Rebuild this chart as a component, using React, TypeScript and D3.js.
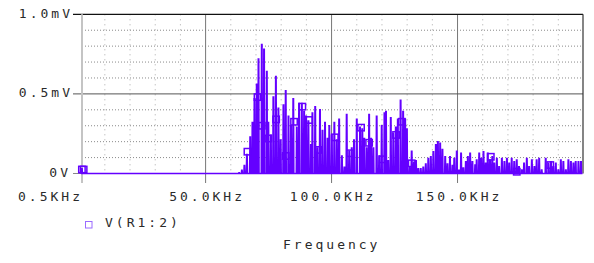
import React, { useEffect, useRef } from "react"
import * as d3 from "d3"

// spectrum peaks (KHz, mV)
const peakFreqs = [
  0.9, 63.3, 64.4, 65.4, 66.4, 67.7, 68.6, 69.4, 70.3, 71.0, 72.3, 73.2, 74.3, 74.9, 75.9, 76.9,
  77.9, 78.9, 79.8, 80.9, 81.8, 82.9, 83.9, 84.8, 86.2, 87.1, 88.2, 89.1, 89.9, 90.8,
  91.8, 92.4, 93.5, 94.4, 95.4, 96.4, 97.4, 98.4, 99.1, 100.1, 101.1, 102.1, 103.0, 104.1,
  105.1, 106.0, 107.0, 108.0, 108.9, 110.0, 111.3, 112.2, 113.0, 114.0, 114.9, 115.7,
  116.6, 117.9, 118.9, 119.9, 121.0, 121.6, 122.5, 123.5, 124.5, 125.5, 126.3, 127.4,
  128.4, 129.2, 129.9, 130.9, 131.8, 132.7, 133.5, 134.4, 135.4, 136.4, 137.4, 138.4,
  139.4, 140.4, 141.4, 142.2, 143.1, 144.0, 145.1, 146.0, 147.0, 148.0, 148.7, 149.7,
  150.6, 151.4, 152.3, 153.3, 154.1, 155.0, 155.9, 157.0, 157.6, 158.6, 159.4, 160.3,
  161.2, 162.0, 162.9, 163.8, 164.6, 165.6, 166.5, 167.6, 168.6, 169.6, 170.5, 171.5,
  172.5, 173.5, 174.4, 175.5, 176.4, 177.5, 178.4, 179.5, 180.5, 181.4, 182.4, 183.4,
  185.0, 186.1, 187.1, 188.0, 189.0, 190.0, 191.0, 192.0, 193.0, 194.0, 195.0, 196.0,
  196.9, 198.0, 199.0
]
const peakValues = [
  0.03, 0.005, 0.02, 0.05, 0.12, 0.23, 0.32, 0.47, 0.56, 0.72, 0.81, 0.78, 0.64, 0.32, 0.24, 0.48,
  0.61, 0.41, 0.21, 0.43, 0.52, 0.36, 0.3, 0.47, 0.29, 0.44, 0.44, 0.39, 0.36, 0.33,
  0.18, 0.38, 0.42, 0.16, 0.4, 0.27, 0.32, 0.22, 0.3, 0.24, 0.32, 0.21, 0.34, 0.11,
  0.04, 0.37, 0.14, 0.16, 0.21, 0.34, 0.29, 0.28, 0.22, 0.16, 0.37, 0.22,
  0.16, 0.36, 0.11, 0.3, 0.38, 0.39, 0.08, 0.35, 0.25, 0.29, 0.34, 0.46,
  0.39, 0.34, 0.28, 0.04, 0.14, 0.07, 0.08, 0.03, 0.03, 0.04, 0.06, 0.095,
  0.105, 0.137, 0.18, 0.2, 0.19, 0.15, 0.105, 0.06, 0.105, 0.05, 0.095, 0.14,
  0.02, 0.127, 0.035, 0.074, 0.105, 0.127, 0.074, 0.053, 0.085, 0.127, 0.095, 0.137,
  0.064, 0.127, 0.085, 0.105, 0.064, 0.095, 0.043, 0.095, 0.074, 0.095, 0.064, 0.095,
  0.074, 0.085, 0.043, 0.022, 0.064, 0.095, 0.043, 0.085, 0.043, 0.085, 0.095, 0.022,
  0.095, 0.064, 0.074, 0.043, 0.064, 0.022, 0.085, 0.074, 0.022, 0.085, 0.074, 0.064,
  0.074, 0.074, 0.074
]

// trace markers
const markerFreqs = [0.9, 1.6, 66.6, 70.6, 72.3, 74.9, 78.0, 81.8, 85.1, 88.4, 91.1, 94.8, 101.3,
  107.3, 111.7, 114.9, 120.3, 125.6, 127.9, 131.8, 163.2, 173.5, 186.8]
const markerValues = [0.025, 0.025, 0.137, 0.48, 0.3, 0.22, 0.34, 0.11, 0.325, 0.42, 0.336, 0.148,
  0.227, 0.127, 0.288, 0.193, 0.089, 0.242, 0.325, 0.064, 0.105, 0.011, 0.053]

const xTickValues = [0.5, 50, 100, 150]
const xTickLabels = ["0.5KHz", "50.0KHz", "100.0KHz", "150.0KHz"]
const yTickValues = [0, 0.5, 1.0]
const yTickLabels = ["0V", "0.5mV", "1.0mV"]
const minorXValues = [10, 20, 30, 40, 60, 70, 80, 90, 110, 120, 130, 140, 160, 170, 180, 190]
const minorYValues = [0.1, 0.2, 0.3, 0.4, 0.6, 0.7, 0.8, 0.9]
const traceName = "V(R1:2)"
const xTitle = "Frequency"

const W = 594
const H = 263
const TRACE = "#6400ff"
const FONT = "'DejaVu Sans Mono', monospace"
const LS = 3

export default function App() {
  const ref = useRef<SVGSVGElement>(null)

  useEffect(() => {
    const svg = d3.select(ref.current)
    svg.selectAll("*").remove()

    const x = d3.scaleLinear().domain([0.5, 199.6]).range([80.9, 582.5])
    const y = d3.scaleLinear().domain([0, 1]).range([173.5, 14.3])
    const left = 82
    const right = 583

    // minor grid
    svg.append("g")
      .selectAll("line")
      .data(minorYValues)
      .join("line")
      .attr("x1", left).attr("x2", right)
      .attr("y1", d => y(d)).attr("y2", d => y(d))
      .attr("stroke", "#8a8a8a")
      .attr("stroke-width", 1)
      .attr("stroke-dasharray", "1,2")
    svg.append("g")
      .selectAll("line")
      .data(minorXValues)
      .join("line")
      .attr("x1", d => x(d)).attr("x2", d => x(d))
      .attr("y1", y(1)).attr("y2", y(0))
      .attr("stroke", "#aaa")
      .attr("stroke-width", 1)
      .attr("stroke-dasharray", "1,4")

    // major grid
    svg.append("g")
      .selectAll("line")
      .data(xTickValues.slice(1))
      .join("line")
      .attr("x1", d => x(d)).attr("x2", d => x(d))
      .attr("y1", y(1)).attr("y2", y(0) + 9.5)
      .attr("stroke", "#777")
      .attr("stroke-width", 1)
    svg.append("line")
      .attr("x1", 73).attr("x2", right)
      .attr("y1", y(0.5)).attr("y2", y(0.5))
      .attr("stroke", "#555").attr("stroke-width", 1)
    svg.append("line")
      .attr("x1", 73).attr("x2", right)
      .attr("y1", y(1)).attr("y2", y(1))
      .attr("stroke", "#111").attr("stroke-width", 1.2)
    svg.append("line")
      .attr("x1", right).attr("x2", right)
      .attr("y1", y(1)).attr("y2", y(0))
      .attr("stroke", "#333").attr("stroke-width", 1.2)
    svg.append("line")
      .attr("x1", 73).attr("x2", left)
      .attr("y1", y(0)).attr("y2", y(0))
      .attr("stroke", "#888").attr("stroke-width", 1)
    svg.append("line")
      .attr("x1", left).attr("x2", left)
      .attr("y1", y(1)).attr("y2", y(0) + 9.5)
      .attr("stroke", "#c4c4c4").attr("stroke-width", 2)

    // tick labels
    svg.append("g")
      .attr("font-family", FONT).attr("font-size", 13)
      .attr("letter-spacing", LS).attr("fill", "#2a2a2a")
      .attr("text-anchor", "end")
      .selectAll("text")
      .data(yTickValues)
      .join("text")
      .attr("x", d => (d === 0 ? 71 : 73))
      .attr("y", d => y(d) + 3.5)
      .text((d, i) => yTickLabels[i])
    svg.append("g")
      .attr("font-family", FONT).attr("font-size", 13)
      .attr("letter-spacing", LS).attr("fill", "#2a2a2a")
      .selectAll("text")
      .data(xTickValues)
      .join("text")
      .attr("text-anchor", (d, i) => (i === 0 ? "end" : "middle"))
      .attr("x", (d, i) => (i === 0 ? 83 : x(d) + 1.5))
      .attr("y", 201)
      .text((d, i) => xTickLabels[i])

    // trace: each peak drawn as a narrow spike off the baseline
    const pts: [number, number][] = [[0.5, 0]]
    peakFreqs.forEach((f, i) => {
      const v = peakValues[i]
      pts.push([f - 0.22, 0], [f - 0.1, v], [f + 0.1, v], [f + 0.22, 0])
    })
    pts.push([199.6, 0])
    const line = d3.line<[number, number]>()
      .x(d => x(d[0]))
      .y(d => y(d[1]))
    svg.append("path")
      .attr("d", line(pts))
      .attr("fill", "none")
      .attr("stroke", TRACE)
      .attr("stroke-width", 1.5)
      .attr("stroke-linejoin", "miter")

    svg.append("g")
      .selectAll("rect")
      .data(markerFreqs)
      .join("rect")
      .attr("x", d => x(d) - 3.2)
      .attr("y", (d, i) => y(markerValues[i]) - 3.2)
      .attr("width", 6.4).attr("height", 6.4)
      .attr("fill", "none")
      .attr("stroke", TRACE)
      .attr("stroke-width", 1.5)

    // legend
    svg.append("rect")
      .attr("x", 85.5).attr("y", 221.5).attr("width", 6.5).attr("height", 6.5)
      .attr("fill", "none").attr("stroke", "#9a6bff").attr("stroke-width", 1)
    svg.append("text")
      .attr("x", 105).attr("y", 227)
      .attr("font-family", FONT).attr("font-size", 13)
      .attr("letter-spacing", LS).attr("fill", "#2a2a2a")
      .text(traceName)
    svg.append("text")
      .attr("x", 283).attr("y", 249)
      .attr("font-family", FONT).attr("font-size", 13)
      .attr("letter-spacing", LS).attr("fill", "#2a2a2a")
      .text(xTitle)
  }, [])

  return (
    <svg ref={ref} width={W} height={H}
      style={{ position: "absolute", left: 0, top: 0, background: "#fff", display: "block" }} />
  )
}
